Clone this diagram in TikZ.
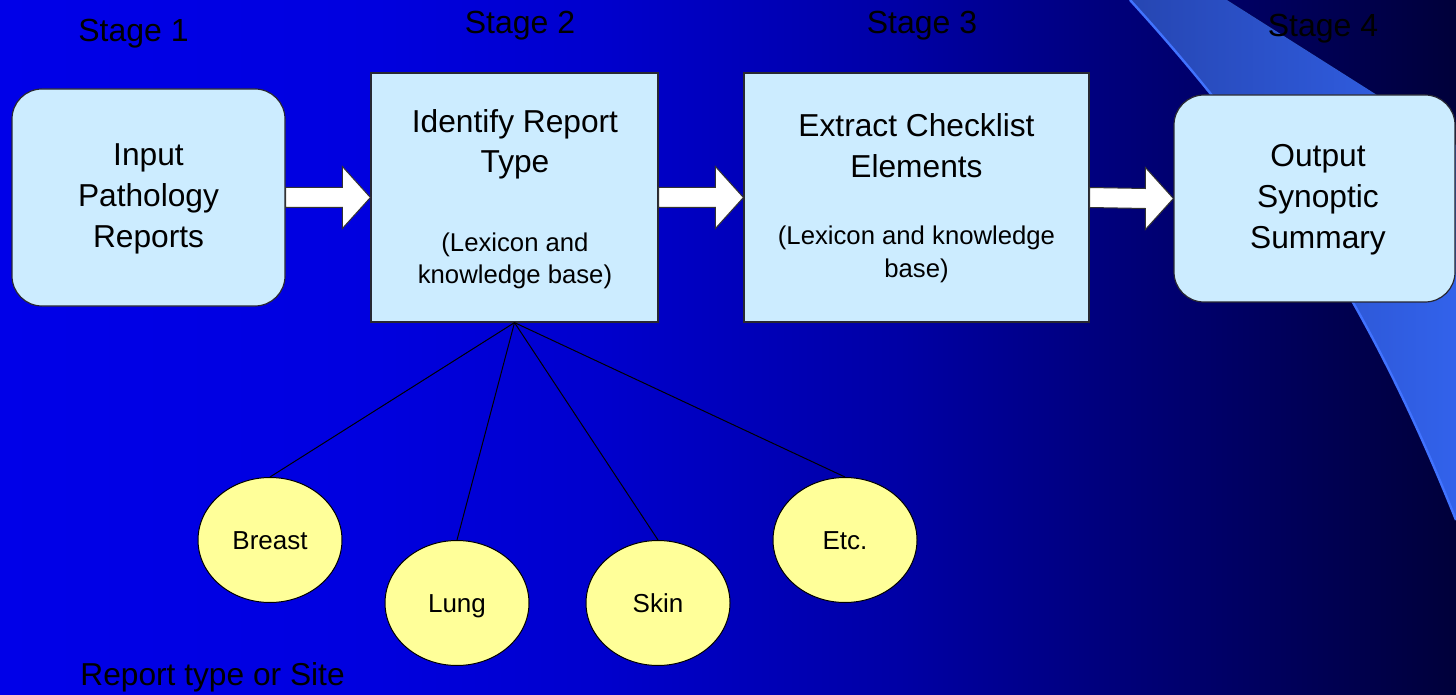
\documentclass[tikz,border=0pt]{standalone}
\usepackage{fontspec}
\setmainfont{Liberation Sans}
\usetikzlibrary{shapes.geometric,calc}
\definecolor{bgA}{RGB}{0,0,232}
\definecolor{bgB}{RGB}{0,0,224}
\definecolor{bgC}{RGB}{0,0,205}
\definecolor{bgD}{RGB}{0,0,165}
\definecolor{bgE}{RGB}{0,0,125}
\definecolor{bgF}{RGB}{0,0,88}
\definecolor{bgG}{RGB}{0,0,58}
\definecolor{bandA}{RGB}{38,70,178}
\definecolor{bandB}{RGB}{50,98,235}
\definecolor{bandhi}{RGB}{65,115,255}
\definecolor{boxfill}{RGB}{204,236,255}
\definecolor{ellfill}{RGB}{255,255,153}
\definecolor{boxline}{RGB}{40,40,50}
\pgfdeclarehorizontalshading{bgshade}{100bp}{color(0bp)=(bgA); color(25bp)=(bgA); color(37bp)=(bgB); color(45.6bp)=(bgC); color(55.9bp)=(bgD); color(62.8bp)=(bgE); color(69.6bp)=(bgF); color(75bp)=(bgG); color(100bp)=(bgG)}
\tikzset{
  rbox/.style={draw=boxline, fill=boxfill, line width=0.6pt, rounded corners=15pt, inner sep=0pt},
  sbox/.style={draw=boxline, fill=boxfill, line width=0.6pt, inner sep=0pt},
  ell/.style={ellipse, draw=black, fill=ellfill, line width=0.5pt, minimum width=72pt, minimum height=62.5pt, inner sep=0pt, font=\fontsize{13pt}{15pt}\selectfont, text height=9.3pt, text depth=0pt},
  txtbig/.style={anchor=base, inner sep=0pt, font=\fontsize{15.85pt}{19pt}\selectfont},
  txtsub/.style={anchor=base, inner sep=0pt, font=\fontsize{12.85pt}{15pt}\selectfont},
  stagelbl/.style={anchor=base, inner sep=0pt, font=\fontsize{16pt}{19pt}\selectfont},
  barrow/.style={fill=white, draw=black!80, line width=0.5pt, line join=miter},
  tie/.style={draw=black, line width=0.5pt}
}
\begin{document}
\begin{tikzpicture}[x=0.5pt,y=-0.5pt]
\path[use as bounding box] (0,0) rectangle (1456,695);
\shade[shading=bgshade] (0,0) rectangle (1456,695);
% light band
\fill[left color=bandA, right color=bandB] (1130,0) .. controls (1285,170) and (1376,320) .. (1456,520) -- (1456,145) -- (1377,95) -- (1227,0) -- cycle;
\draw[bandhi, line width=1.2pt] (1130,0) .. controls (1285,170) and (1376,320) .. (1456,520);
% boxes
\node[rbox, minimum width=136.5pt, minimum height=108.5pt] (b1) at (148.5,197.5) {};
\node[sbox, minimum width=143.5pt, minimum height=124.5pt] (b2) at (514.5,197.5) {};
\node[sbox, minimum width=172.5pt, minimum height=124.5pt] (b3) at (916.5,197.5) {};
\node[rbox, minimum width=140.5pt, minimum height=103.5pt] (b4) at (1314.5,198.5) {};
% block arrows
\draw[barrow] ($(b1.east)+(0,-10)$) -- ($(b2.west)+(-28,-10)$) -- ($(b2.west)+(-28,-31)$) -- (b2.west) -- ($(b2.west)+(-28,31)$) -- ($(b2.west)+(-28,10)$) -- ($(b1.east)+(0,10)$) -- cycle;
\draw[barrow] ($(b2.east)+(0,-10)$) -- ($(b3.west)+(-28,-10)$) -- ($(b3.west)+(-28,-31)$) -- (b3.west) -- ($(b3.west)+(-28,31)$) -- ($(b3.west)+(-28,10)$) -- ($(b2.east)+(0,10)$) -- cycle;
\draw[barrow] ($(b3.east)+(0,-10)$) -- ($(b4.west)+(-28,-10)$) -- ($(b4.west)+(-28,-31)$) -- (b4.west) -- ($(b4.west)+(-28,31)$) -- ($(b4.west)+(-28,10)$) -- ($(b3.east)+(0,10)$) -- cycle;
% ellipses
\node[ell] (breast) at (270,540) {Breast};
\node[ell] (lung) at (457,603) {Lung};
\node[ell] (skin) at (658,603) {Skin};
\node[ell] (etc) at (845,540) {Etc.};
\draw[tie] (b2.south) -- (breast.north);
\draw[tie] (b2.south) -- (lung.north);
\draw[tie] (b2.south) -- (skin.north);
\draw[tie] (b2.south) -- (etc.north);
% stage labels
\node[stagelbl] (s1) at (133.5,42) {Stage 1};
\node[stagelbl] (s2) at (520,34) {Stage 2};
\node[stagelbl] (s3) at (922,34) {Stage 3};
\node[stagelbl] (s4) at (1323,37) {Stage 4};
% box texts
\node[txtbig] (t11) at (148.5,166) {Input};
\node[txtbig] (t12) at (148.5,207) {Pathology};
\node[txtbig] (t13) at (148.5,248) {Reports};
\node[txtbig] (t21) at (515,133) {Identify Report};
\node[txtbig] (t22) at (515,173) {Type};
\node[txtsub] (t23) at (515,252) {(Lexicon and};
\node[txtsub] (t24) at (515,284) {knowledge base)};
\node[txtbig] (t31) at (916.5,137) {Extract Checklist};
\node[txtbig] (t32) at (916.5,178) {Elements};
\node[txtsub] (t33) at (916.5,245) {(Lexicon and knowledge};
\node[txtsub] (t34) at (916.5,278) {base)};
\node[txtbig] (t41) at (1318,166.5) {Output};
\node[txtbig] (t42) at (1318,207.5) {Synoptic};
\node[txtbig] (t43) at (1318,249) {Summary};
\node[txtbig, anchor=base west] (site) at (80,685) {Report type or Site};
\end{tikzpicture}
\end{document}
